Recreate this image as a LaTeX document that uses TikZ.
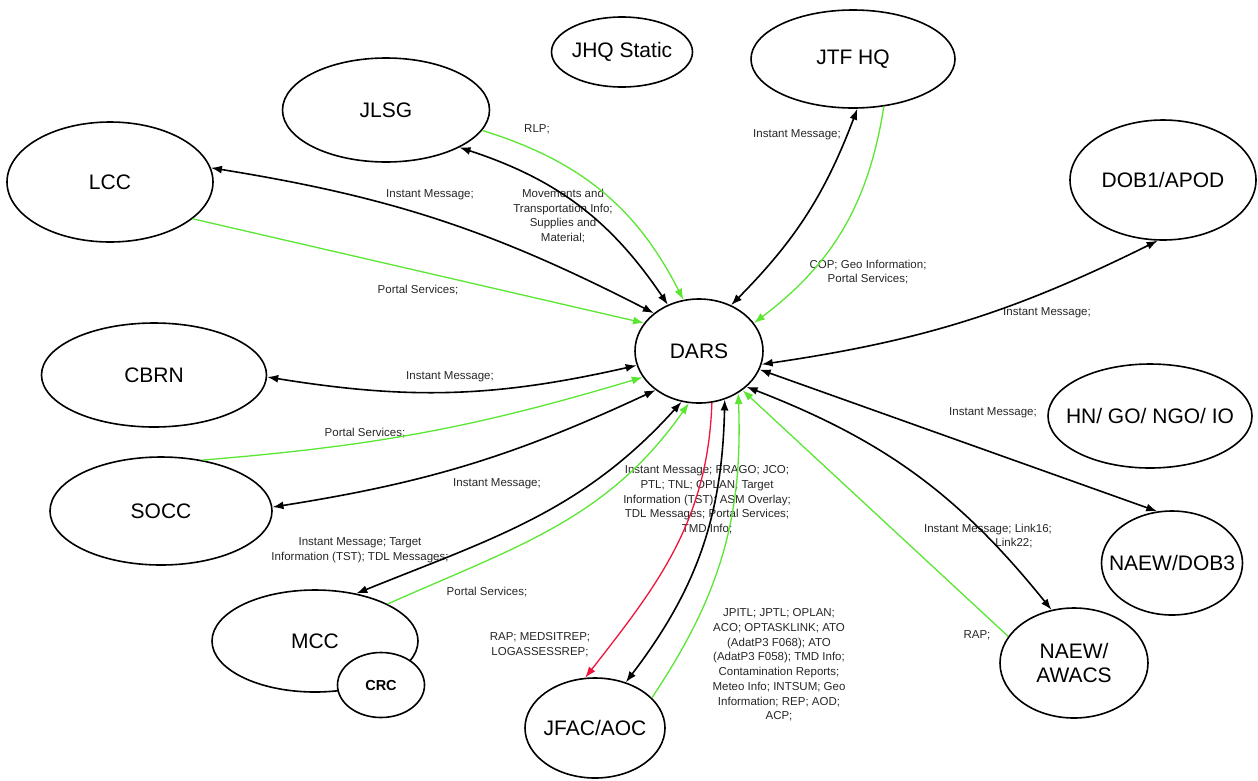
\documentclass[tikz,border=0pt]{standalone}
\usepackage{fontspec}
\setmainfont{Liberation Sans}
\usetikzlibrary{arrows.meta, shapes.geometric}

\definecolor{linkgreen}{RGB}{90,230,50}
\definecolor{linkred}{RGB}{240,20,60}
\newcommand{\sysfont}{\fontsize{21}{24}\selectfont}
\newcommand{\msgfont}{\fontsize{11.5}{14.7}\selectfont}

\begin{document}
\begin{tikzpicture}[x=1pt, y=-1pt, >={Latex[length=11pt,width=8pt]},
  sys/.style={draw, ellipse, fill=white, line width=1.6pt, inner sep=0pt, inner xsep=-30pt, align=center, font=\sysfont},
  msg/.style={<->, line width=1.6pt},
  svc/.style={->, draw=linkgreen, line width=1.3pt},
  rep/.style={->, draw=linkred, line width=1.3pt},
  lbl/.style={font=\msgfont, align=center, text=black!85}]
\useasboundingbox (0,0) rectangle (1258,780);

% Centre node
\node (dars) [sys, minimum width=128pt, minimum height=104pt] at (699,351) {DARS};

% Upper nodes
\node (jhq) [sys, minimum width=141pt, minimum height=70pt] at (622,52) {JHQ Static};
\node (jtf) [sys, minimum width=204pt, minimum height=98pt] at (853,59) {JTF HQ};
\node (jlsg) [sys, minimum width=207pt, minimum height=104pt] at (386,110) {JLSG};
\node (lcc) [sys, minimum width=206pt, minimum height=120pt] at (110,182) {LCC};
\node (dob1) [sys, minimum width=186pt, minimum height=120pt] at (1163,180) {DOB1/APOD};

% Left nodes
\node (cbrn) [sys, minimum width=225pt, minimum height=104pt] at (154,375) {CBRN};
\node (socc) [sys, minimum width=222pt, minimum height=108pt] at (161,511) {SOCC};
\node (mcc) [sys, minimum width=206pt, minimum height=102pt] at (315,641) {MCC};
\node (crc) [sys, minimum width=87pt, minimum height=65pt, font=\fontsize{14.5}{17}\selectfont\bfseries] at (381,685) {CRC};

% Lower and right nodes
\node (jfac) [sys, minimum width=140pt, minimum height=100pt] at (595,728) {JFAC/AOC};
\node (awacs) [sys, minimum width=148pt, minimum height=110pt] at (1074,663) {NAEW/\\AWACS};
\node (dob3) [sys, minimum width=141pt, minimum height=104pt] at (1172,563) {NAEW/DOB3};
\node (hngo) [sys, minimum width=204pt, minimum height=104pt] at (1150,416) {HN/ GO/ NGO/ IO};

% Message labels
\node (rlp) [lbl] at (537,129) {RLP;};
\node (movinfo) [lbl] at (563,216) {Movements and\\Transportation Info;\\Supplies and\\Material;};
\node (lccmsg) [lbl] at (430,195) {Instant Message;};
\node (lccsvc) [lbl] at (418,290) {Portal Services;};
\node (cbrnmsg) [lbl] at (450,377) {Instant Message;};
\node (soccsvc) [lbl] at (365,433) {Portal Services;};
\node (soccmsg) [lbl] at (497,484) {Instant Message;};
\node (mccmsg) [lbl] at (360,550) {Instant Message; Target\\Information (TST); TDL Messages;};
\node (mccsvc) [lbl] at (487,592) {Portal Services;};
\node (jfacrep) [lbl] at (540,645) {RAP; MEDSITREP;\\LOGASSESSREP;};
\node (jfacmsg) [lbl] at (707,500) {Instant Message; FRAGO; JCO;\\PTL; TNL; OPLAN; Target\\Information (TST); ASM Overlay;\\TDL Messages; Portal Services;\\TMD Info;};
\node (jfacsvc) [lbl] at (779,665) {JPITL; JPTL; OPLAN;\\ACO; OPTASKLINK; ATO\\(AdatP3 F068); ATO\\(AdatP3 F058); TMD Info;\\Contamination Reports;\\Meteo Info; INTSUM; Geo\\Information; REP; AOD;\\ACP;};
\node (awacsrap) [lbl] at (977,635) {RAP;};
\node (awacsmsg) [lbl] at (988,536) {Instant Message; Link16;\\\hspace*{52pt}Link22;};
\node (dob3msg) [lbl] at (993,413) {Instant Message;};
\node (dob1msg) [lbl] at (1047,313) {Instant Message;};
\node (jtfmsg) [lbl] at (797,135) {Instant Message;};
\node (jtfsvc) [lbl] at (868,272) {COP; Geo Information;\\Portal Services;};

% Two-way links
\draw[msg] (jlsg.333) to[bend left=19] (dars.124);
\draw[msg] (lcc.8) to[bend left=9] (dars.140);
\draw[msg] (cbrn.359) to[bend right=11] (dars.193);
\draw[msg] (socc.2) to[bend right=8] (dars.222);
\draw[msg] (mcc.49) to[out=22, in=228] (dars.251);
\draw[msg] (jfac.56) to[bend right=18] (dars.298);
\draw[msg] (dars.323) to[bend left=15] (awacs.113);
\draw[msg] (dars.343) -- (dob3.106);
\draw[msg] (dars.348) to[bend right=9] (dob1.265);
\draw[msg] (jtf.275) to[bend left=12] (dars.55);

% Services into DARS
\draw[svc] (jlsg.348) to[bend left=23] (dars.107);
\draw[svc] (lcc.336) -- (dars.153);
\draw[svc] (socc.51) to[bend right=6] (dars.205);
\draw[svc] (mcc.27) to[out=24, in=235] (dars.259);
\draw[svc] (jfac.28) to[bend right=18] (dars.313);
\draw[svc] (awacs.158) -- (dars.318);
\draw[svc] (jtf.303) to[bend left=22] (dars.27);

% Reports out of DARS
\draw[rep] (dars.284) to[out=268, in=52] (jfac.101);
\end{tikzpicture}
\end{document}
